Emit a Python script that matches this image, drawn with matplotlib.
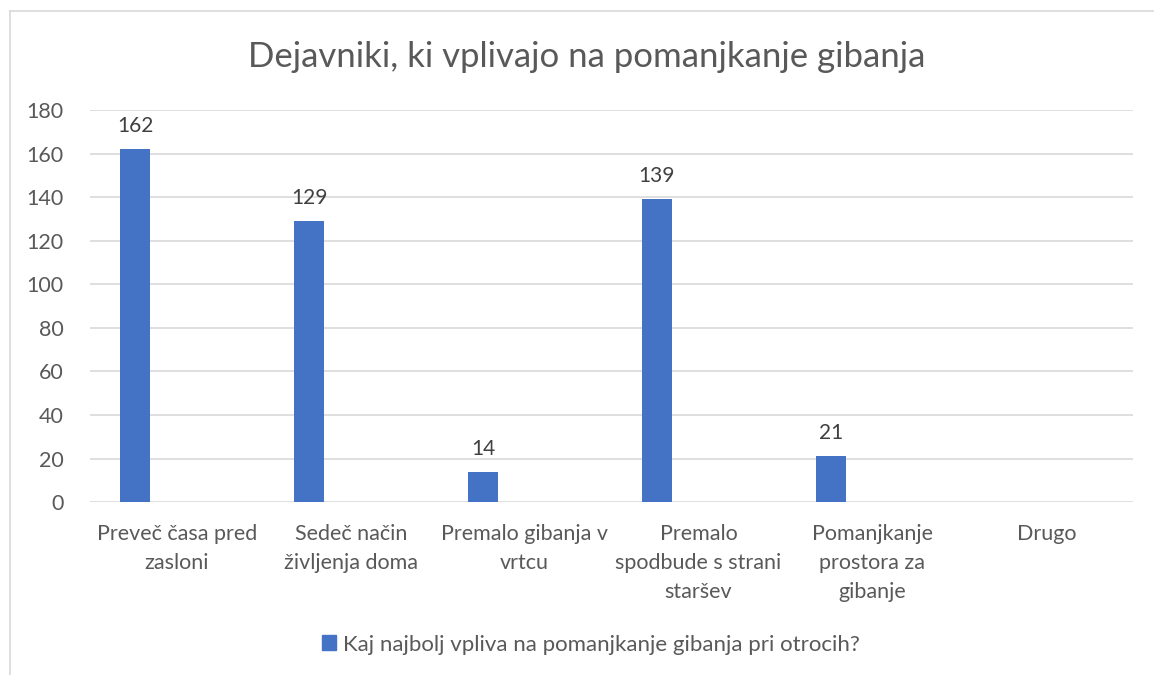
import numpy as np
import matplotlib.pyplot as plt
from matplotlib.patches import Rectangle

categories = ["Preveč časa pred\nzasloni", "Sedeč način\nživljenja doma", "Premalo gibanja v\nvrtcu",
              "Premalo\nspodbude s strani\nstaršev", "Pomanjkanje\nprostora za\ngibanje", "Drugo"]
values = [162, 129, 14, 139, 21, None]
series_name = "Kaj najbolj vpliva na pomanjkanje gibanja pri otrocih?"
title = "Dejavniki, ki vplivajo na pomanjkanje gibanja"
yticks = [0, 20, 40, 60, 80, 100, 120, 140, 160, 180]

plt.rcParams['font.family'] = ['Lato', 'DejaVu Sans']
text_col = "#595959"
bar_col = "#4472C4"

fig = plt.figure(figsize=(11.54, 6.75), dpi=100)
ax = fig.add_axes([0.078, 0.256, 0.904, 0.581])

x = np.arange(len(categories))
vals = [v if v is not None else 0 for v in values]
bars = ax.bar(x - 0.24, vals, width=0.173, color=bar_col, zorder=3)
for xi, v in zip(x, values):
    if v:
        ax.text(xi - 0.24, v + 6, str(v), ha='center', va='bottom', fontsize=15, color="#404040")

ax.set_xlim(-0.5, len(categories) - 0.5)
ax.set_ylim(0, 180)
ax.set_yticks(yticks)
ax.set_xticks(x)
ax.set_xticklabels(categories, fontsize=15.5, color=text_col, linespacing=1.55, va='top')
ax.tick_params(axis='y', labelsize=15.5, labelcolor=text_col, length=0, pad=19)
ax.tick_params(axis='x', length=0, pad=16)
ax.grid(axis='y', color="#d9d9d9", lw=1.2, zorder=0)
for s in ax.spines.values():
    s.set_visible(False)

fig.text(0.508, 0.915, title, ha='center', va='center', fontsize=25, color=text_col)

fig.legend([Rectangle((0, 0), 1, 1, color=bar_col)], [series_name], loc='center',
           bbox_to_anchor=(0.512, 0.045), frameon=False, fontsize=16, labelcolor=text_col,
           handlelength=0.65, handleheight=0.65, handletextpad=0.3)

# chart border
fig.add_artist(plt.Line2D([0.009, 1.0], [0.984, 0.984], color="#d9d9d9", lw=1.2))
fig.add_artist(plt.Line2D([0.009, 0.009], [0.0, 0.984], color="#d9d9d9", lw=1.2))

fig.savefig("out.png", dpi=100)
